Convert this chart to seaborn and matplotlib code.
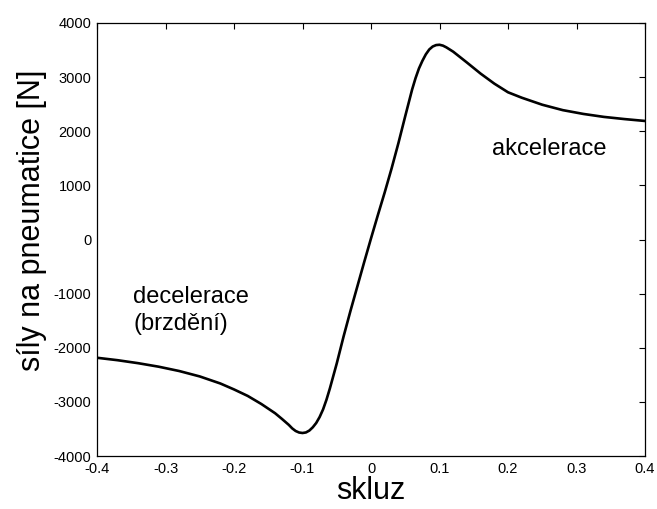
import matplotlib
matplotlib.use("Agg")
import matplotlib.pyplot as plt
import seaborn as sns
import pandas as pd

slip = [-0.40, -0.37, -0.34, -0.31, -0.28, -0.25, -0.22, -0.20, -0.18, -0.16,
        -0.14, -0.13, -0.12, -0.115, -0.11, -0.105, -0.10, -0.095, -0.09, -0.085,
        -0.08, -0.075, -0.07, -0.065, -0.06, -0.05,
        -0.04, -0.03, -0.02, -0.01, 0.00, 0.01, 0.02, 0.03, 0.04, 0.05,
        0.06, 0.065, 0.07, 0.075, 0.08, 0.085, 0.09, 0.095, 0.10, 0.105,
        0.11, 0.12, 0.14, 0.16, 0.18,
        0.20, 0.22, 0.25, 0.28, 0.31, 0.34, 0.37, 0.40]
force = [-2185, -2230, -2285, -2350, -2430, -2530, -2660, -2770, -2890, -3040,
         -3210, -3315, -3425, -3490, -3538, -3566, -3575, -3565, -3530, -3470,
         -3390, -3280, -3140, -2960, -2750, -2290,
         -1790, -1320, -870, -420, 20, 450, 870, 1310, 1780, 2280,
         2770, 2980, 3160, 3300, 3420, 3510, 3565, 3592, 3598, 3582,
         3550, 3470, 3270, 3065, 2880,
         2720, 2620, 2490, 2390, 2320, 2265, 2225, 2190]

xticks = [-0.4, -0.3, -0.2, -0.1, 0, 0.1, 0.2, 0.3, 0.4]
xticklabels = ["-0.4", "-0.3", "-0.2", "-0.1", "0", "0.1", "0.2", "0.3", "0.4"]
yticks = [-4000, -3000, -2000, -1000, 0, 1000, 2000, 3000, 4000]
yticklabels = ["-4000", "-3000", "-2000", "-1000", "0", "1000", "2000", "3000", "4000"]

xlabel = "skluz"
ylabel = "síly na pneumatice [N]"
label_acc = "akcelerace"
label_dec = "decelerace\n(brzdění)"

df = pd.DataFrame({"slip": slip, "force": force})

sns.set_style("white")
plt.rcParams["font.family"] = ["Liberation Sans", "DejaVu Sans"]
plt.rcParams["text.color"] = "black"
plt.rcParams["axes.labelcolor"] = "black"

fig = plt.figure(figsize=(6.57, 5.09), dpi=100)
ax = fig.add_axes([97/657, 53/509, 548/657, 433/509])

sns.lineplot(data=df, x="slip", y="force", ax=ax, color="black", linewidth=1.9)

ax.set_xlim(-0.4, 0.4)
ax.set_ylim(-4000, 4000)
ax.set_xticks(xticks)
ax.set_xticklabels(xticklabels, fontsize=10.5)
ax.set_yticks(yticks)
ax.set_yticklabels(yticklabels, fontsize=10.5)
ax.tick_params(direction="in", length=4, width=0.8, top=True, right=True,
               colors="black", labelcolor="black", pad=4)
for s in ax.spines.values():
    s.set_visible(True)
    s.set_color("black")
    s.set_linewidth(0.9)

ax.set_xlabel(xlabel, fontsize=22, labelpad=0, color="black")
ax.set_ylabel(ylabel, fontsize=22, color="black")
ax.yaxis.set_label_coords(-0.091, 0.545)

ax.text(0.177, 1560, label_acc, fontsize=17, ha="left", va="baseline", color="black")
ax.text(-0.347, -860, label_dec, fontsize=17, ha="left", va="top",
        linespacing=1.3, color="black")

fig.savefig("out.png", dpi=100)
